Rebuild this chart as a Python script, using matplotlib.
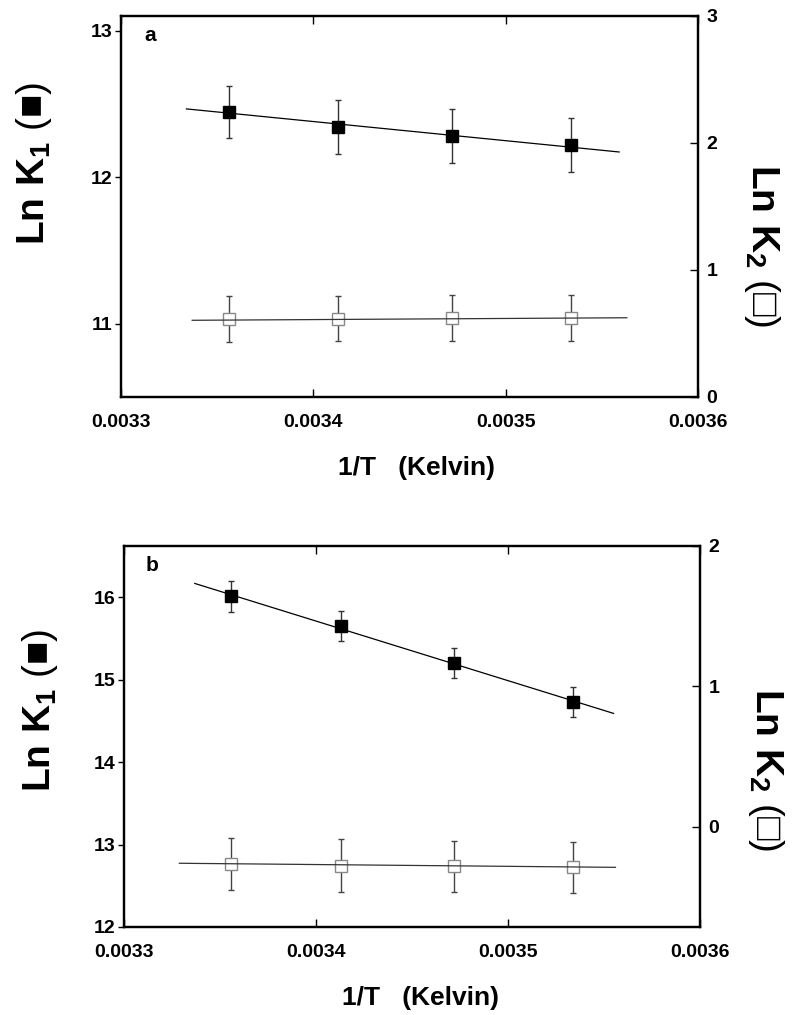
import matplotlib
matplotlib.use('Agg')
import matplotlib.pyplot as plt

plt.rcParams['font.family'] = ['Liberation Sans', 'DejaVu Sans']
plt.rcParams['font.weight'] = 'bold'
plt.rcParams['mathtext.fontset'] = 'custom'
plt.rcParams['mathtext.rm'] = 'Liberation Sans'
plt.rcParams['mathtext.it'] = 'Liberation Sans:bold'
plt.rcParams['mathtext.bf'] = 'Liberation Sans:bold'
plt.rcParams['mathtext.default'] = 'bf'

# 1/T values (same four temperatures in both panels)
inv_T = [0.003356, 0.003413, 0.003472, 0.003534]

x_ticks = [0.0033, 0.0034, 0.0035, 0.0036]
x_ticklabels = ['0.0033', '0.0034', '0.0035', '0.0036']

# panel a
lnK1_a = [12.445, 12.345, 12.279, 12.217]
lnK1_a_err = [0.18, 0.185, 0.185, 0.185]
lnK2_a = [0.612, 0.617, 0.620, 0.620]
lnK2_a_err = [0.18, 0.18, 0.18, 0.18]
fit1_a_x = [0.003334, 0.003559]
fit1_a_y = [12.466, 12.172]
fit2_a_x = [0.003337, 0.003563]
fit2_a_y = [0.604, 0.624]

# panel b
lnK1_b = [16.01, 15.648, 15.204, 14.731]
lnK1_b_err = [0.187, 0.186, 0.181, 0.18]
lnK2_b = [-0.265, -0.277, -0.282, -0.289]
lnK2_b_err = [0.185, 0.187, 0.183, 0.182]
fit1_b_x = [0.003337, 0.003555]
fit1_b_y = [16.166, 14.59]
fit2_b_x = [0.003329, 0.003556]
fit2_b_y = [-0.26, -0.289]


def panel(rect, letter, k1, k1e, k2, k2e, f1x, f1y, f2x, f2y,
          ylim1, yt1, ylim2, yt2):
    ax = fig.add_axes(rect)
    ax2 = ax.twinx()

    ax.errorbar(inv_T, k1, yerr=k1e, fmt='none', ecolor='#333333',
                elinewidth=1, capsize=2.5, capthick=1, zorder=2)
    ax.plot(inv_T, k1, 's', ms=9, color='black', zorder=3)
    ax.plot(f1x, f1y, '-', color='black', lw=0.9, zorder=4)

    ax2.errorbar(inv_T, k2, yerr=k2e, fmt='none', ecolor='#444444',
                 elinewidth=1, capsize=2.5, capthick=1, zorder=2)
    ax2.plot(inv_T, k2, 's', ms=9, mfc='white', mec='#888888', mew=1, zorder=3)
    ax2.plot(f2x, f2y, '-', color='#333333', lw=0.9, zorder=4)

    ax.set_xlim(0.0033, 0.0036)
    ax.set_xticks(x_ticks)
    ax.set_xticklabels(x_ticklabels)
    ax.set_ylim(*ylim1)
    ax.set_yticks(yt1)
    ax.set_yticklabels([str(v) for v in yt1])
    ax2.set_ylim(*ylim2)
    ax2.set_yticks(yt2)
    ax2.set_yticklabels([str(v) for v in yt2])

    ax.tick_params(axis='x', direction='in', top=True, length=5.5, width=1,
                   pad=12, labelsize=14)
    ax.tick_params(axis='y', direction='out', length=4.5, width=1,
                   pad=1.5, labelsize=14)
    ax2.tick_params(axis='y', direction='in', length=6, width=1,
                    pad=6, labelsize=14)
    for a in (ax, ax2):
        for s in a.spines.values():
            s.set_linewidth(1.6)

    ax.text(0.05, 0.95, letter, transform=ax.transAxes, fontsize=15,
            fontweight='bold', va='center', ha='center')
    return ax, ax2


fig = plt.figure(figsize=(8, 10.15), dpi=100)

panel([0.15125, 0.60887, 0.72125, 0.37537], 'a',
      lnK1_a, lnK1_a_err, lnK2_a, lnK2_a_err,
      fit1_a_x, fit1_a_y, fit2_a_x, fit2_a_y,
      (10.5, 13.1), [11, 12, 13], (0, 3), [0, 1, 2, 3])

panel([0.1546, 0.0867, 0.7204, 0.37537], 'b',
      lnK1_b, lnK1_b_err, lnK2_b, lnK2_b_err,
      fit1_b_x, fit1_b_y, fit2_b_x, fit2_b_y,
      (12, 16.62), [12, 13, 14, 15, 16], (-0.714, 2.0), [0, 1, 2])

W, H = 800, 1015
for (lx, ly, rx, ry, xx, xy) in [(34, 163, 762, 246, 417, 468),
                                 (40, 710, 766, 770, 420, 998)]:
    fig.text(lx / W, 1 - ly / H, r"$\mathbf{Ln\ K_1}$ (■)", rotation=90,
             ha='center', va='center', fontsize=28, fontweight='normal')
    fig.text(rx / W, 1 - ry / H, r"$\mathbf{Ln\ K_2}$ (□)", rotation=270,
             ha='center', va='center', fontsize=28, fontweight='normal')
    fig.text(xx / W, 1 - xy / H, "1/T   (Kelvin)", ha='center',
             va='center', fontsize=19, fontweight='bold')

fig.savefig('out.png', dpi=100)
